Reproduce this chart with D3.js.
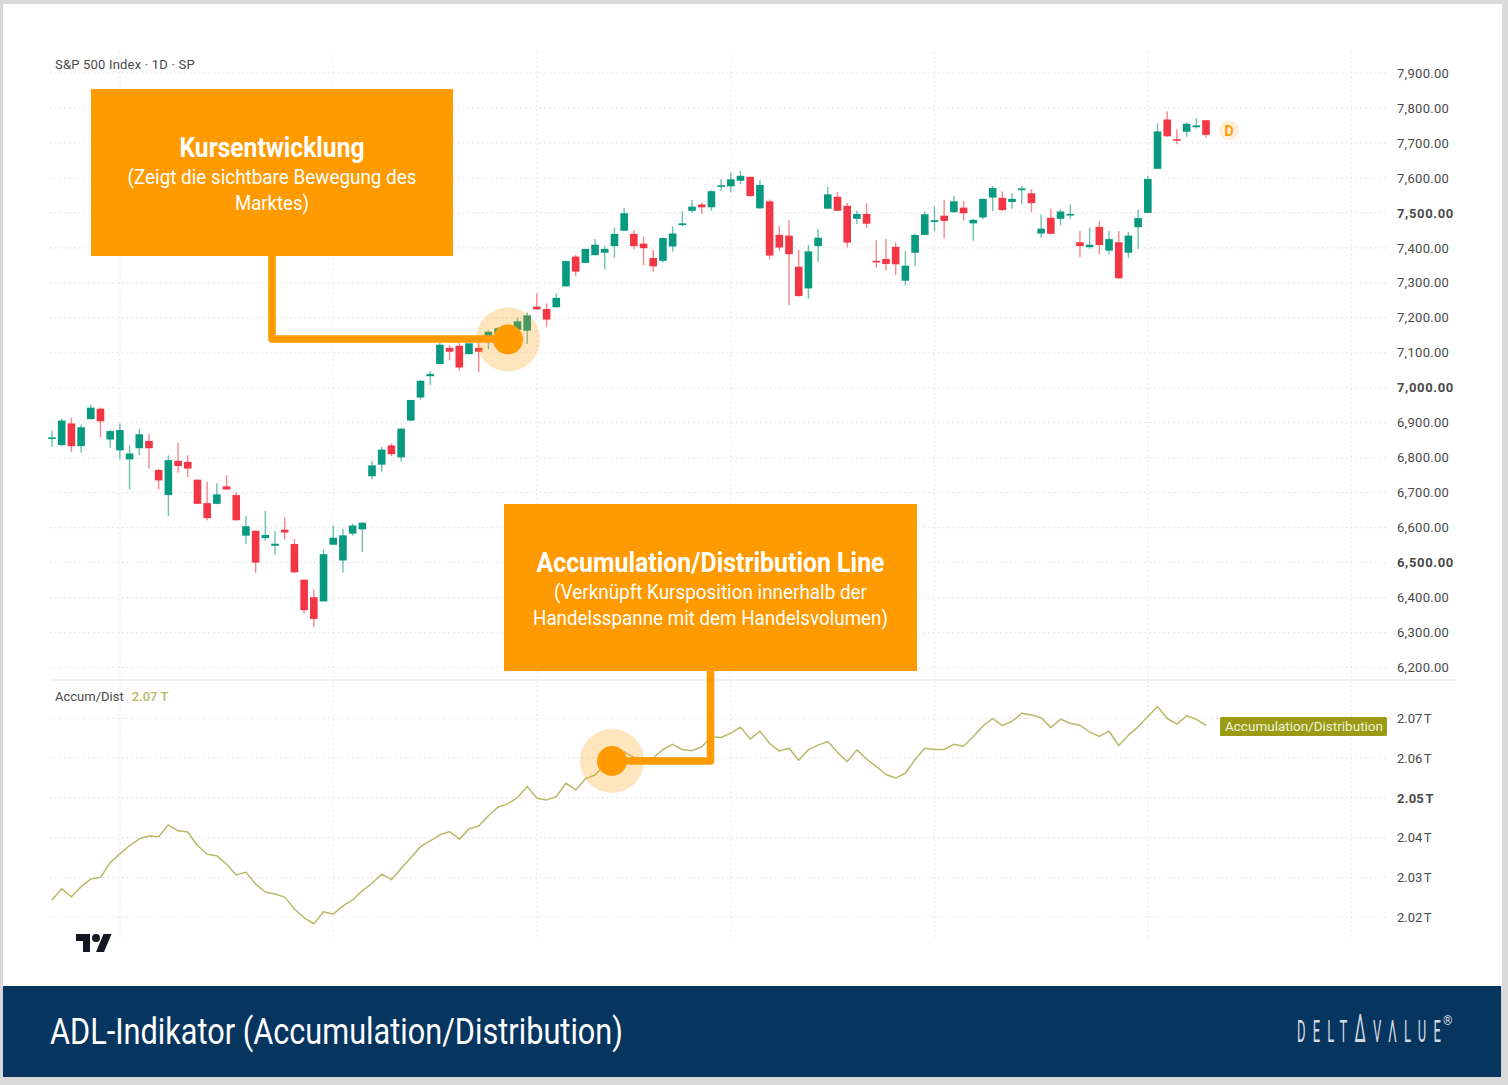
<!DOCTYPE html>
<html lang="de">
<head>
<meta charset="utf-8">
<title>ADL-Indikator</title>
<script src="https://cdn.jsdelivr.net/npm/d3@7"></script>
<style>
    html, body { margin: 0; padding: 0; background: #fff; }
    svg { display: block; }
    text { font-family: Roboto, "Noto Sans", sans-serif; }
</style>
</head>
<body>
<div id="chart"></div>
<script>
// S&P 500 daily candles
const opens = [
    6855,6836,6898,6833,6910,6940,6852,6821,6795,6827,
    6848,6765,6693,6791,6788,6737,6670,6668,6718,6693,
    6577,6591,6570,6548,6594,6553,6451,6401,6389,6551,
    6506,6583,6595,6747,6780,6835,6801,6906,6972,7033,
    7068,7114,7120,7096,7114,7136,7146,7150,7165,7163,
    7232,7225,7230,7290,7375,7357,7379,7386,7405,7449,
    7440,7412,7371,7363,7404,7465,7506,7524,7516,7576,
    7576,7592,7603,7513,7533,7437,7435,7346,7284,7405,
    7512,7546,7520,7483,7497,7363,7368,7403,7306,7386,
    7437,7474,7492,7502,7515,7470,7487,7544,7543,7531,
    7565,7556,7441,7486,7483,7493,7416,7402,7460,7392,
    7416,7386,7459,7500,7626,7767,7711,7732,7745,7765
];
const highs = [
    6877,6911,6914,6895,6950,6943,6879,6898,6835,6883,
    6868,6767,6807,6843,6807,6738,6731,6727,6750,6701,
    6633,6591,6648,6590,6629,6568,6452,6423,6538,6606,
    6597,6611,6616,6790,6831,6841,6884,6966,7021,7048,
    7127,7122,7127,7127,7127,7165,7174,7180,7200,7215,
    7270,7241,7270,7363,7380,7397,7425,7406,7458,7514,
    7450,7432,7394,7430,7462,7505,7537,7529,7565,7596,
    7615,7620,7603,7594,7538,7463,7479,7394,7409,7454,
    7575,7560,7529,7506,7527,7422,7425,7416,7391,7440,
    7503,7518,7537,7549,7534,7484,7542,7577,7562,7556,
    7577,7568,7496,7512,7511,7524,7448,7458,7476,7448,
    7448,7445,7508,7606,7756,7790,7739,7758,7771,7765
];
const lows = [
    6831,6833,6817,6814,6910,6858,6829,6795,6709,6808,
    6769,6709,6633,6757,6744,6667,6621,6667,6708,6620,
    6554,6471,6563,6522,6566,6471,6354,6316,6389,6551,
    6471,6577,6531,6738,6760,6805,6788,6904,6966,7008,
    7068,7079,7049,7096,7045,7110,7136,7130,7150,7125,
    7223,7174,7230,7289,7319,7357,7379,7338,7372,7448,
    7396,7350,7332,7358,7389,7462,7500,7497,7506,7563,
    7559,7582,7546,7512,7367,7392,7236,7261,7255,7360,
    7512,7505,7401,7468,7457,7344,7335,7322,7293,7348,
    7437,7448,7427,7500,7478,7420,7482,7505,7506,7512,
    7525,7502,7429,7439,7464,7483,7373,7397,7381,7381,
    7312,7370,7397,7499,7625,7718,7696,7718,7741,7715
];
const closes = [
    6858,6906,6833,6887,6943,6904,6876,6879,6812,6867,
    6827,6735,6793,6776,6769,6668,6627,6695,6709,6621,
    6604,6500,6579,6554,6586,6472,6364,6339,6524,6571,
    6578,6606,6614,6778,6823,6810,6883,6965,7020,7039,
    7123,7103,7058,7127,7103,7160,7170,7175,7190,7207,
    7224,7195,7257,7362,7332,7397,7409,7397,7440,7499,
    7405,7399,7347,7428,7441,7470,7518,7516,7562,7579,
    7596,7606,7548,7580,7378,7401,7382,7262,7390,7429,
    7553,7506,7415,7497,7469,7360,7354,7353,7349,7437,
    7496,7479,7477,7533,7499,7480,7540,7571,7508,7540,
    7570,7528,7455,7440,7504,7497,7405,7409,7408,7425,
    7313,7435,7485,7597,7733,7719,7707,7755,7750,7723
];

// Accumulation/Distribution line, in billions
const adl = [
    2024.3,2027.1,2025.1,2027.6,2029.6,2030.0,2033.7,2035.9,2038.0,2039.7,
    2040.4,2040.2,2043.2,2041.7,2041.4,2038.0,2035.8,2035.4,2033.3,2030.6,
    2031.3,2028.3,2026.3,2025.8,2025.0,2022.0,2019.8,2018.3,2021.3,2020.7,
    2022.8,2024.3,2026.6,2028.5,2030.8,2029.4,2032.2,2034.9,2037.7,2039.2,
    2040.7,2041.5,2039.6,2042.2,2042.9,2045.5,2047.7,2048.5,2050.1,2052.9,
    2049.9,2049.5,2050.3,2053.7,2052.0,2054.8,2055.8,2058.3,2060.8,2061.6,
    2060.2,2060.1,2060.1,2062.2,2063.5,2062.2,2061.9,2062.9,2065.4,2065.2,
    2066.3,2067.8,2064.8,2066.8,2063.7,2061.8,2062.5,2059.5,2062.1,2063.3,
    2064.2,2061.5,2059.1,2062.1,2059.8,2057.9,2055.9,2055.0,2056.2,2059.7,
    2062.5,2062.2,2062.2,2063.5,2063.0,2065.4,2068.1,2070.0,2068.2,2069.3,
    2071.3,2070.9,2070.2,2067.7,2069.8,2068.8,2068.3,2066.6,2065.5,2066.8,
    2063.2,2065.8,2067.9,2070.5,2073.0,2070.0,2068.6,2070.7,2069.8,2068.3
];

const priceTicks = d3.range(6200, 8000, 100);
const boldPriceTicks = [6500, 7000, 7500];
const adlTicks = [2020, 2030, 2040, 2050, 2060, 2070];
const boldAdlTicks = [2050];
const timeGridIndex = [7, 29, 50, 70, 91, 113, 134];

const WIDTH = 1508;
const HEIGHT = 1085;
const ORANGE = '#ff9a00';
const GREEN = '#089981';
const RED = '#f23645';
const AXIS_TEXT = '#4a4a4a';

const svg = d3.select('#chart').append('svg')
    .attr('width', WIDTH)
    .attr('height', HEIGHT);

// Frame and footer
svg.append('rect').attr('width', WIDTH).attr('height', HEIGHT).attr('fill', '#d9d9d9');
svg.append('rect').attr('x', 3).attr('y', 4).attr('width', 1499).attr('height', 982).attr('fill', '#fff');
svg.append('rect').attr('x', 3).attr('y', 986).attr('width', 1498).attr('height', 91).attr('fill', '#06355f');

// Scales
const x = d3.scaleLinear().domain([0, 119]).range([52, 1206]);
const yPrice = d3.scaleLinear().domain([6200, 7900]).range([667.5, 73]);
const yAdl = d3.scaleLinear().domain([2020, 2070]).range([917, 718.5]);

// Grid
const grid = svg.append('g')
    .attr('stroke', '#e3e3e3')
    .attr('stroke-width', 1.2)
    .attr('stroke-dasharray', '1.5,3.3');

grid.selectAll('.grid-price').data(priceTicks).enter().append('line')
    .attr('x1', 50).attr('x2', 1386)
    .attr('y1', d => yPrice(d)).attr('y2', d => yPrice(d));

grid.selectAll('.grid-adl').data(adlTicks).enter().append('line')
    .attr('x1', 50).attr('x2', 1386)
    .attr('y1', d => yAdl(d)).attr('y2', d => yAdl(d));

grid.selectAll('.grid-time').data(timeGridIndex).enter().append('line')
    .attr('x1', d => x(d)).attr('x2', d => x(d))
    .attr('y1', 52).attr('y2', 940);

// Pane divider
svg.append('line')
    .attr('x1', 50).attr('x2', 1456)
    .attr('y1', 680).attr('y2', 680)
    .attr('stroke', '#ececec')
    .attr('stroke-width', 1.5);

// Axes
const priceAxis = d3.axisRight(yPrice)
    .tickValues(priceTicks)
    .tickSize(0)
    .tickPadding(0)
    .tickFormat(d3.format(',.2f'));

const adlAxis = d3.axisRight(yAdl)
    .tickValues(adlTicks)
    .tickSize(0)
    .tickPadding(0)
    .tickFormat(d => (d / 1000).toFixed(2) + ' T');

function styleAxis(g, boldTicks, spacing, boldSpacing, wordSpacing) {
    g.select('.domain').remove();
    g.selectAll('text')
        .attr('fill', AXIS_TEXT)
        .style('font-size', '13px')
        .style('font-family', 'Roboto, sans-serif')
        .style('font-weight', d => boldTicks.includes(d) ? 700 : 400)
        .style('letter-spacing', d => (boldTicks.includes(d) ? boldSpacing : spacing) + 'px')
        .style('word-spacing', wordSpacing + 'px');
}

svg.append('g').attr('transform', 'translate(1397,0)').call(priceAxis).call(styleAxis, boldPriceTicks, 0.3, 0.65, 0);
svg.append('g').attr('transform', 'translate(1397,0)').call(adlAxis).call(styleAxis, boldAdlTicks, 0, 0.2, -1.5);

// Candles
const candles = svg.append('g')
    .attr('class', 'candles')
    .style('filter', 'blur(0.35px)')
    .selectAll('g')
    .data(opens.map((o, i) => i))
    .enter().append('g');

candles.append('line')
    .attr('x1', i => x(i)).attr('x2', i => x(i))
    .attr('y1', i => yPrice(highs[i]))
    .attr('y2', i => yPrice(lows[i]))
    .attr('stroke', i => closes[i] >= opens[i] ? GREEN : RED)
    .attr('stroke-opacity', 0.6)
    .attr('stroke-width', 1.4);

candles.append('rect')
    .attr('x', i => x(i) - 3.8)
    .attr('width', 7.6)
    .attr('y', i => yPrice(Math.max(opens[i], closes[i])))
    .attr('height', i => Math.max(1.6, Math.abs(yPrice(opens[i]) - yPrice(closes[i]))))
    .attr('fill', i => closes[i] >= opens[i] ? GREEN : RED);

// A/D line
const adlLine = d3.line()
    .x((d, i) => x(i))
    .y(d => yAdl(d));

svg.append('path')
    .datum(adl)
    .attr('d', adlLine)
    .attr('fill', 'none')
    .attr('stroke', '#b9ba68')
    .attr('stroke-width', 1.5)
    .attr('stroke-linejoin', 'round');

// Pane titles
svg.append('text').attr('x', 55).attr('y', 68.5)
    .attr('font-size', 13).attr('fill', AXIS_TEXT)
    .style('letter-spacing', '0.2px')
    .text('S&P 500 Index · 1D · SP');

const adlTitle = svg.append('text').attr('x', 55).attr('y', 701)
    .attr('font-size', 13).attr('fill', AXIS_TEXT);
adlTitle.append('tspan').text('Accum/Dist');
adlTitle.append('tspan').attr('dx', 8).attr('fill', '#b7b85f').attr('font-weight', 500).text('2.07 T');

// Current-value tag on the A/D pane
svg.append('rect')
    .attr('x', 1220).attr('y', 717).attr('width', 167).attr('height', 19)
    .attr('rx', 1.5).attr('fill', '#9a9a14');
svg.append('text')
    .attr('x', 1304).attr('y', 731).attr('text-anchor', 'middle')
    .attr('font-size', 12.5).attr('fill', '#f3f3dc')
    .attr('textLength', 158).attr('lengthAdjust', 'spacingAndGlyphs')
    .text('Accumulation/Distribution');

// Dividend marker
svg.append('circle').attr('cx', 1229).attr('cy', 130.5).attr('r', 10).attr('fill', '#fff0dc');
svg.append('text')
    .attr('x', 1229).attr('y', 135.5).attr('text-anchor', 'middle')
    .attr('font-size', 14).attr('font-weight', 700).attr('fill', ORANGE)
    .text('D');

// TradingView logo
const logo = svg.append('g').attr('transform', 'translate(76,930)').attr('fill', '#131722');
logo.append('path').attr('d', 'M14 22H7V11H0V4h14v18zM28 22h-8l7.5-18h8L28 22z');
logo.append('circle').attr('cx', 20).attr('cy', 8).attr('r', 4);

// Condensed text: no condensed face is installed, so squeeze to the measured width
function fitText(g, cx, y, size, weight, width, str) {
    g.append('text')
        .attr('x', cx).attr('y', y)
        .attr('text-anchor', 'middle')
        .attr('font-size', size)
        .attr('font-weight', weight)
        .attr('fill', '#fff')
        .attr('textLength', width)
        .attr('lengthAdjust', 'spacingAndGlyphs')
        .text(str);
}

// Callouts
function callout(box, connector, dot, title, lines) {
    const g = svg.append('g');
    g.append('circle')
        .attr('cx', dot.x).attr('cy', dot.y).attr('r', 32)
        .attr('fill', ORANGE).attr('fill-opacity', 0.26);
    g.append('path')
        .attr('d', d3.line()(connector))
        .attr('fill', 'none')
        .attr('stroke', ORANGE)
        .attr('stroke-width', 7.5)
        .attr('stroke-linejoin', 'round');
    g.append('circle')
        .attr('cx', dot.x).attr('cy', dot.y).attr('r', 15)
        .attr('fill', ORANGE);
    g.append('rect')
        .attr('x', box.x).attr('y', box.y).attr('width', box.w).attr('height', box.h)
        .attr('fill', ORANGE);
    const cx = box.x + box.w / 2;
    fitText(g, cx, title.y, 28, 700, title.w, title.text);
    lines.forEach(l => fitText(g, cx, l.y, 21, 400, l.w, l.text));
}

callout(
    { x: 91, y: 89, w: 362, h: 167 },
    [[272, 256], [272, 339], [508, 339]],
    { x: 508, y: 339.5 },
    { text: 'Kursentwicklung', y: 157, w: 185 },
    [
        { text: '(Zeigt die sichtbare Bewegung des', y: 184, w: 289 },
        { text: 'Marktes)', y: 210, w: 74 }
    ]
);

callout(
    { x: 504, y: 504, w: 413, h: 167 },
    [[710.5, 671], [710.5, 761], [612, 761]],
    { x: 612, y: 761 },
    { text: 'Accumulation/Distribution Line', y: 572, w: 348 },
    [
        { text: '(Verknüpft Kursposition innerhalb der', y: 599, w: 313 },
        { text: 'Handelsspanne mit dem Handelsvolumen)', y: 625, w: 355 }
    ]
);

// Footer text
svg.append('text')
    .attr('x', 50).attr('y', 1044)
    .attr('font-size', 37).attr('fill', '#fff')
    .attr('textLength', 573).attr('lengthAdjust', 'spacingAndGlyphs')
    .text('ADL-Indikator (Accumulation/Distribution)');

// DELTAVALUE wordmark: tall narrow letters, wide tracking
const brand = svg.append('text')
    .attr('transform', 'translate(1297,1042) scale(0.42,1)')
    .attr('font-size', 31)
    .attr('fill', '#d5dae0')
    .style('letter-spacing', '17px');
brand.append('tspan').text('DELT');
brand.append('tspan').attr('font-size', 38).text('Δ');
brand.append('tspan').text('VΛLU');
brand.append('tspan').style('letter-spacing', '0px').text('E');

svg.append('text')
    .attr('x', 1443).attr('y', 1025)
    .attr('font-size', 12).attr('fill', '#d5dae0')
    .text('®');
</script>
</body>
</html>
